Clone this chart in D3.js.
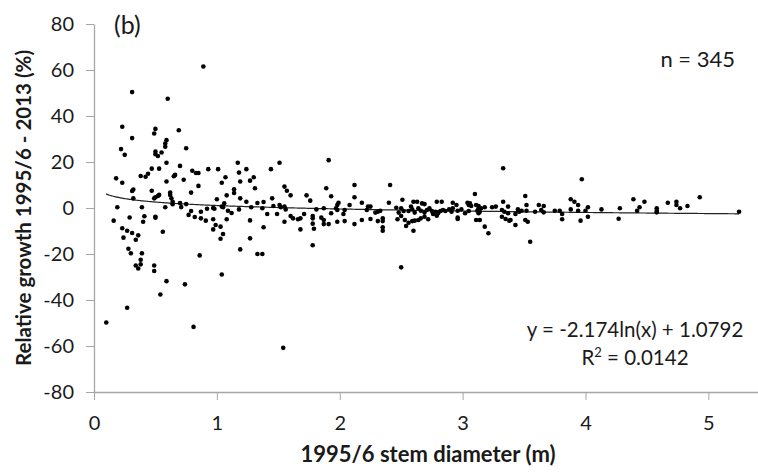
<!DOCTYPE html>
<html>
<head>
<meta charset="utf-8">
<script src="https://cdn.jsdelivr.net/npm/d3@7"></script>
<style>
    body { margin: 0; background: #fff; }
    .axis path, .axis line { stroke: #a6a6a6; }
    .axis text { font-family: Lato, "Open Sans", sans-serif; font-size: 20px; fill: #1a1a1a; }
    .lbl { font-family: Lato, "Open Sans", sans-serif; fill: #1a1a1a; }
</style>
</head>
<body>
<div id="chart"></div>
<script>
// [stem diameter (m), relative growth (%)]
const treePoints = [
    [0.31, 50.4], [0.60, 47.5], [0.23, 35.3], [0.50, 34.4], [0.49, 32.4], [0.31, 30.4], [0.69, 33.8],
    [0.59, 29.5], [0.58, 28.0], [0.58, 26.6], [0.22, 25.6], [0.25, 23.1], [0.50, 24.5], [0.50, 23.4],
    [0.52, 22.6], [0.55, 24.1], [0.75, 26.0], [0.59, 19.7], [0.70, 18.3], [0.47, 17.1], [0.53, 17.1],
    [0.80, 16.2], [0.83, 15.2], [0.85, 15.2], [0.44, 14.9], [0.42, 13.6], [0.38, 13.9], [0.18, 12.9],
    [0.23, 11.0], [0.66, 14.4], [0.65, 13.8], [0.73, 12.3], [0.59, 11.5], [0.85, 9.6], [0.32, 8.0],
    [0.31, 7.4], [0.47, 7.5], [0.62, 6.7], [0.62, 5.7], [0.53, 5.7], [0.52, 5.2], [0.79, 6.7],
    [0.32, 4.2], [0.49, 4.2], [0.50, 4.7], [0.63, 4.2], [0.64, 2.7], [0.64, 1.6], [0.70, 2.2],
    [0.75, 1.7], [0.19, 0.3], [0.39, 0.3], [0.58, 0.3], [0.71, 0.4], [0.79, -1.3], [0.77, -3.0],
    [0.82, -3.9], [0.87, -1.6], [0.16, -5.5], [0.29, -4.1], [0.41, -3.6], [0.40, -6.0], [0.50, -3.8],
    [0.50, -4.2], [0.23, -8.8], [0.27, -9.9], [0.31, -10.9], [0.36, -11.9], [0.24, -12.9], [0.34, -13.8],
    [0.56, -10.3], [0.28, -17.7], [0.30, -19.7], [0.39, -19.7], [0.38, -22.5], [0.38, -24.5], [0.34, -25.0],
    [0.36, -26.3], [0.49, -25.0], [0.49, -27.4], [0.86, -20.6], [0.59, -31.8], [0.74, -33.2], [0.54, -37.6],
    [0.27, -43.4], [0.10, -49.8], [0.81, -51.7], [0.89, 61.5],
    [1.17, 19.7], [1.51, 19.7], [0.93, 16.9], [1.01, 16.9], [1.18, 15.4], [1.24, 16.9], [1.44, 16.9],
    [1.07, 13.4], [1.04, 11.0], [1.19, 11.5], [1.27, 11.9], [1.30, 13.4], [1.31, 8.6], [1.14, 8.1],
    [1.14, 6.5], [1.08, 5.5], [1.00, 3.8], [1.19, 4.2], [1.06, 2.0], [1.05, 0.3], [1.24, 2.7],
    [1.33, 2.2], [1.38, 2.6], [1.45, 4.2], [1.55, 9.3], [1.57, 7.5], [1.60, 5.5], [1.73, 5.5],
    [1.76, 3.2], [0.87, -4.5], [0.91, -5.5], [0.92, -0.3], [0.97, 0.0], [0.98, -0.3], [1.04, 0.6],
    [1.09, -1.2], [1.12, -2.2], [1.18, -0.6], [1.28, 0.3], [1.37, -0.1], [1.46, 0.9], [1.51, 1.3],
    [1.52, 0.3], [1.55, 0.6], [1.56, -0.6], [1.41, -2.6], [1.49, -2.6], [1.60, -3.5], [1.62, -4.5],
    [1.66, -4.9], [1.68, -4.5], [1.71, -2.6], [0.97, -4.9], [1.08, -4.9], [1.27, -5.4], [1.55, -6.0],
    [0.99, -7.4], [1.03, -8.1], [0.97, -9.3], [1.05, -11.3], [1.03, -13.4], [1.38, -8.4], [1.68, -9.3],
    [1.27, -13.2], [1.19, -18.0], [1.33, -20.0], [1.37, -20.0], [1.04, -28.9], [1.54, -60.8],
    [1.91, 20.8], [1.89, 8.6], [2.12, 10.0], [2.41, 10.0], [1.93, 5.1], [2.12, 4.7], [2.18, 2.3],
    [1.99, 2.3], [1.98, 1.3], [2.08, 1.3], [2.40, 2.3], [2.51, 3.6], [2.60, 2.7], [2.63, 2.7],
    [2.67, 2.0], [2.69, 1.7], [2.79, 2.7], [2.83, 2.7], [2.92, 2.3], [2.95, 1.3], [3.04, 2.3],
    [3.05, 1.3], [1.81, -0.6], [1.87, -0.1], [1.97, -0.1], [1.98, -0.9], [2.04, -0.9], [2.03, -2.6],
    [2.23, 0.6], [2.22, -0.9], [2.25, 0.6], [2.29, -2.0], [2.31, -1.6], [2.33, -1.2], [1.78, -3.5],
    [1.78, -4.5], [1.93, -2.3], [2.46, 0.1], [2.48, -2.0], [2.50, -0.1], [2.52, -1.3], [2.56, -1.3],
    [2.58, 0.6], [2.59, -0.6], [2.61, -2.0], [2.64, -0.1], [2.66, -1.2], [2.69, -2.0], [2.71, -0.9],
    [2.73, -0.1], [2.75, -1.3], [2.76, -2.3], [2.78, -1.6], [2.80, -2.3], [2.82, -1.3], [2.84, -0.9],
    [2.86, -1.3], [2.89, -0.6], [2.91, -1.6], [2.92, -0.1], [2.96, -1.2], [2.99, -0.6], [3.02, -2.3],
    [3.05, -1.3], [1.78, -6.8], [1.79, -9.0], [1.85, -4.2], [1.87, -5.2], [1.87, -7.0], [1.91, -7.0],
    [1.98, -6.0], [2.04, -5.7], [2.12, -7.0], [2.18, -5.2], [2.25, -4.8], [2.31, -5.7], [2.35, -4.5],
    [2.35, -5.7], [2.35, -8.4], [2.35, -9.9], [2.47, -4.9], [2.50, -3.5], [2.53, -5.2], [2.54, -7.8],
    [2.56, -6.4], [2.59, -5.7], [2.61, -5.5], [2.64, -5.2], [2.66, -4.5], [2.69, -3.8], [2.72, -4.9],
    [2.60, -9.9], [1.78, -16.2], [2.50, -25.8], [2.76, -2.6], [2.79, -3.4], [2.96, -4.1], [2.96, -4.8],
    [3.33, 17.3], [3.97, 12.5], [3.10, 6.1], [3.06, 2.0], [3.07, 0.9], [3.11, 1.3], [3.13, 0.9],
    [3.13, -0.1], [3.12, -1.2], [3.14, -1.6], [3.13, -2.3], [3.15, -0.1], [3.18, 0.3], [3.11, -5.2],
    [3.14, -5.2], [3.18, -8.1], [3.21, -11.0], [3.24, 0.3], [3.27, 0.6], [3.33, 2.7], [3.32, -0.9],
    [3.34, -1.6], [3.32, -3.8], [3.35, -4.8], [3.37, -2.3], [3.38, -5.5], [3.39, -5.2], [3.37, 0.6],
    [3.43, -2.6], [3.43, -7.4], [3.45, -0.6], [3.46, -1.6], [3.48, -1.2], [3.51, 5.2], [3.52, 1.3],
    [3.52, -1.2], [3.51, -5.2], [3.53, -6.0], [3.55, -14.7], [3.59, -1.6], [3.62, 1.3], [3.64, -0.9],
    [3.66, 0.9], [3.66, -1.9], [3.75, -1.2], [3.79, -1.2], [3.81, -2.6], [3.81, -4.9], [3.88, 3.8],
    [3.88, -0.6], [3.91, 2.7], [3.94, 1.3], [3.94, -1.2], [3.96, -5.5], [4.00, -1.2], [4.02, 0.3],
    [4.02, -3.8], [4.13, -0.6], [4.28, -0.1], [4.27, -4.7],
    [4.39, 3.8], [4.48, 2.7], [4.44, 0.3], [4.42, -1.2], [4.58, -0.1], [4.58, -1.2], [4.58, -1.9],
    [4.67, 2.3], [4.74, 2.7], [4.74, 1.3], [4.77, -0.1], [4.83, 0.9], [4.93, 4.7], [5.25, -1.6]
];

const xTickValues = [0, 1, 2, 3, 4, 5];
const yTickValues = [-80, -60, -40, -20, 0, 20, 40, 60, 80];

// logarithmic trendline y = a ln(x) + b
const trendCoef = { a: -2.174, b: 1.0792 };
const trendRange = [0.098, 5.25];

const panelLabel = "(b)";
const nLabel = "n = 345";
const eqLabel = "y = -2.174ln(x) + 1.0792";
const r2Value = "0.0142";

class ScatterChart {

    constructor(_parentElement, _data) {
        this.parentElement = _parentElement;
        this.data = _data;
        this.initVis();
    }

    initVis() {
        let vis = this;

        vis.svg = d3.select("#" + vis.parentElement).append("svg")
            .attr("width", 758)
            .attr("height", 472);

        vis.x = d3.scaleLinear().domain([0, 5.4]).range([94, 94 + 5.4 * 122.87]);
        vis.y = d3.scaleLinear().domain([-80, 80]).range([392, 24]);

        vis.xAxis = d3.axisBottom(vis.x)
            .tickValues(xTickValues)
            .tickFormat(d => String(d))
            .tickSizeInner(8).tickSizeOuter(0)
            .tickPadding(16);

        vis.yAxis = d3.axisLeft(vis.y)
            .tickValues(yTickValues)
            .tickFormat(d => String(d))
            .tickSizeInner(8).tickSizeOuter(0)
            .tickPadding(12);

        vis.svg.append("g")
            .attr("class", "x-axis axis")
            .attr("transform", "translate(0," + vis.y(-80) + ")")
            .call(vis.xAxis);

        vis.svg.append("g")
            .attr("class", "y-axis axis")
            .attr("transform", "translate(" + vis.x(0) + ",0)")
            .call(vis.yAxis);

        vis.svg.selectAll(".axis path").attr("stroke-width", 1.3);

        vis.updateVis();
    }

    updateVis() {
        let vis = this;

        // trendline
        let trend = d3.range(trendRange[0], trendRange[1], 0.01).concat([trendRange[1]])
            .map(d => [d, trendCoef.a * Math.log(d) + trendCoef.b]);

        vis.svg.append("path")
            .datum(trend)
            .attr("fill", "none")
            .attr("stroke", "#222")
            .attr("stroke-width", 1.2)
            .attr("d", d3.line().x(d => vis.x(d[0])).y(d => vis.y(d[1])));

        // points
        vis.svg.selectAll(".dot")
            .data(vis.data)
            .enter().append("circle")
            .attr("class", "dot")
            .attr("cx", d => vis.x(d[0]))
            .attr("cy", d => vis.y(d[1]))
            .attr("r", 2.3)
            .attr("fill", "#000");

        // labels
        vis.svg.append("text").attr("class", "lbl")
            .attr("x", 114).attr("y", 34)
            .attr("font-size", 25)
            .text(panelLabel);

        vis.svg.append("text").attr("class", "lbl")
            .attr("x", 735).attr("y", 67)
            .attr("text-anchor", "end")
            .attr("font-size", 22)
            .text(nLabel);

        vis.svg.append("text").attr("class", "lbl")
            .attr("x", 635).attr("y", 337)
            .attr("text-anchor", "middle")
            .attr("font-size", 20.5)
            .text(eqLabel);

        let r2 = vis.svg.append("text").attr("class", "lbl")
            .attr("x", 635).attr("y", 365)
            .attr("text-anchor", "middle")
            .attr("font-size", 20.5);
        r2.append("tspan").text("R");
        r2.append("tspan").attr("dy", -8).attr("font-size", 13).text("2");
        r2.append("tspan").attr("dy", 8).text(" = " + r2Value);

        // axis titles
        vis.svg.append("text").attr("class", "lbl")
            .attr("x", 428).attr("y", 462)
            .attr("text-anchor", "middle")
            .attr("font-size", 22)
            .attr("font-weight", "bold")
            .text("1995/6 stem diameter (m)");

        vis.svg.append("text").attr("class", "lbl")
            .attr("transform", "translate(31,208) rotate(-90)")
            .attr("text-anchor", "middle")
            .attr("font-size", 20.5)
            .attr("font-weight", "bold")
            .text("Relative growth 1995/6 - 2013 (%)");
    }
}

new ScatterChart("chart", treePoints);
</script>
</body>
</html>
